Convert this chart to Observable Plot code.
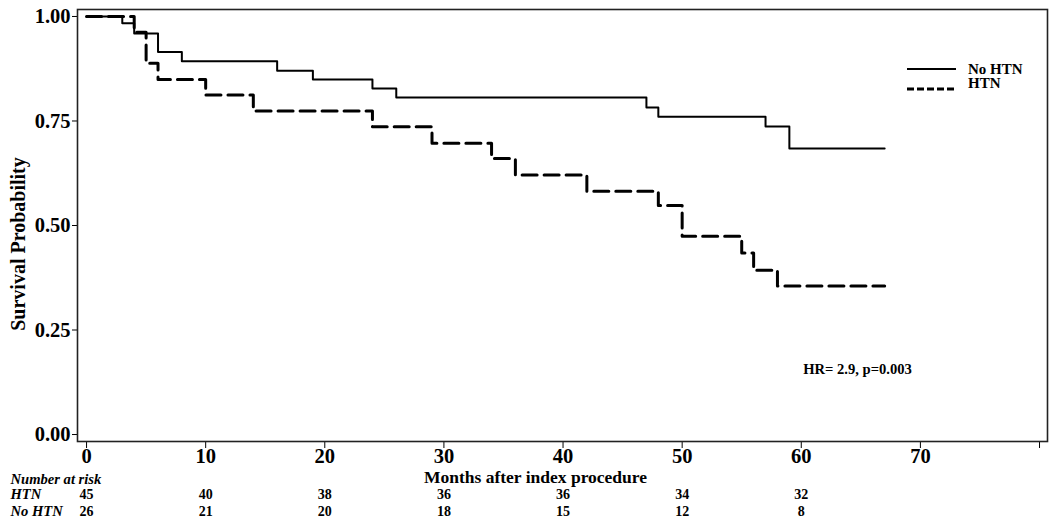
<!DOCTYPE html>
<html>
<head>
<meta charset="utf-8">
<script src="https://cdn.jsdelivr.net/npm/d3@7"></script>
<script src="https://cdn.jsdelivr.net/npm/@observablehq/plot@0.6"></script>
<style>
  body { margin: 0; background: #fff; }
  #wrap { position: relative; width: 1050px; height: 528px; font-family: "Liberation Serif", "Times New Roman", serif; }
  .leg-text { position: absolute; font-weight: bold; font-size: 15px; line-height: 1; color: #000; }
  .leg-line { position: absolute; }
</style>
</head>
<body>
<div id="wrap"></div>
<script>
// ---- data ----
const noHtnMonths = [0, 3, 4, 6, 8, 16, 19, 24, 26, 47, 48, 57, 59, 67];
const noHtnSurv   = [1.0, 0.984, 0.959, 0.915, 0.893, 0.870, 0.849, 0.828, 0.806, 0.782, 0.760, 0.737, 0.684, 0.684];

const htnMonths = [0, 4, 5, 6, 10, 14, 24, 29, 34, 36, 42, 48, 50, 55, 56, 58, 67];
const htnSurv   = [1.0, 0.962, 0.888, 0.849, 0.812, 0.774, 0.736, 0.697, 0.660, 0.621, 0.582, 0.548, 0.474, 0.434, 0.393, 0.355, 0.355];

const riskMonths = [0, 10, 20, 30, 40, 50, 60];
const htnRisk    = [45, 40, 38, 36, 36, 34, 32];
const noHtnRisk  = [26, 21, 20, 18, 15, 12, 8];

const xTicks = [0, 10, 20, 30, 40, 50, 60, 70, 80];
const xTickLabels = ["0", "10", "20", "30", "40", "50", "60", "70", ""];
const yTicks = [0, 0.25, 0.5, 0.75, 1.0];

const seriesNames = ["No HTN", "HTN"];
const yLabel = "Survival Probability";
const xLabel = "Months after index procedure";
const hrText = "HR= 2.9, p=0.003";
const riskTitle = "Number at risk";

// ---- build tables ----
const noHtn = noHtnMonths.map((m, i) => ({month: m, surv: noHtnSurv[i]}));
const htn = htnMonths.map((m, i) => ({month: m, surv: htnSurv[i]}));

const fontFamily = '"Liberation Serif", "Times New Roman", serif';

const chart = Plot.plot({
  width: 1050,
  height: 528,
  marginTop: 9,
  marginBottom: 87,
  marginLeft: 77,
  marginRight: 3,
  style: {fontFamily, fontWeight: "bold", fontSize: "20.5px", color: "#000", background: "#fff"},
  x: {
    domain: [-0.76, 80.67],
    ticks: xTicks,
    tickSize: 7,
    tickPadding: 0,
    tickFormat: d => xTickLabels[xTicks.indexOf(d)],
    label: null
  },
  y: {
    domain: [-0.0167, 1.0167],
    ticks: yTicks,
    tickSize: 5,
    tickPadding: 2,
    tickFormat: d3.format(".2f"),
    label: null
  },
  marks: [
    Plot.frame({stroke: "#222", strokeWidth: 1.6}),
    Plot.line(noHtn, {x: "month", y: "surv", curve: "step-after", stroke: "#000", strokeWidth: 2}),
    Plot.line(htn, {x: "month", y: "surv", curve: "step-after", stroke: "#000", strokeWidth: 3, strokeDasharray: "15,7"}),
    Plot.text([hrText], {frameAnchor: "bottom-right", textAnchor: "middle", dx: -190, dy: -68, fontSize: 14.6, fill: "#000"}),
    Plot.text([yLabel], {frameAnchor: "left", textAnchor: "middle", rotate: -90, dx: -59, dy: 18.5, fontSize: 20, fill: "#000"}),
    Plot.text([xLabel], {frameAnchor: "bottom", textAnchor: "middle", dx: -27, dy: 41, fontSize: 17.5, fill: "#000"}),
    Plot.text([riskTitle], {frameAnchor: "bottom-left", textAnchor: "start", dx: -67, dy: 42, fontSize: 14.6, fontStyle: "italic", fill: "#000"}),
    Plot.text([seriesNames[1]], {frameAnchor: "bottom-left", textAnchor: "start", dx: -67, dy: 57, fontSize: 14.6, fontStyle: "italic", fill: "#000"}),
    Plot.text([seriesNames[0]], {frameAnchor: "bottom-left", textAnchor: "start", dx: -67, dy: 74, fontSize: 14.6, fontStyle: "italic", fill: "#000"}),
    Plot.text(riskMonths, {x: d => d, text: (d, i) => String(htnRisk[i]), frameAnchor: "bottom", textAnchor: "middle", dy: 57, fontSize: 14, fill: "#000"}),
    Plot.text(riskMonths, {x: d => d, text: (d, i) => String(noHtnRisk[i]), frameAnchor: "bottom", textAnchor: "middle", dy: 74, fontSize: 14, fill: "#000"})
  ]
});

const wrap = document.getElementById("wrap");
chart.style.position = "absolute";
chart.style.left = "0";
chart.style.top = "0";
wrap.appendChild(chart);

// ---- legend (HTML overlay) ----
function legendItem(name, dash, width, lineTop, textTop) {
  const ns = "http://www.w3.org/2000/svg";
  const svg = document.createElementNS(ns, "svg");
  svg.setAttribute("width", 50);
  svg.setAttribute("height", 6);
  svg.setAttribute("class", "leg-line");
  svg.style.left = "907px";
  svg.style.top = (lineTop - 3) + "px";
  const ln = document.createElementNS(ns, "line");
  ln.setAttribute("x1", 0); ln.setAttribute("x2", 49);
  ln.setAttribute("y1", 3); ln.setAttribute("y2", 3);
  ln.setAttribute("stroke", "#000");
  ln.setAttribute("stroke-width", width);
  if (dash) ln.setAttribute("stroke-dasharray", dash);
  svg.appendChild(ln);
  wrap.appendChild(svg);
  const t = document.createElement("div");
  t.className = "leg-text";
  t.style.left = "968px";
  t.style.top = textTop + "px";
  t.textContent = name;
  wrap.appendChild(t);
}
legendItem(seriesNames[0], null, 2, 69, 62);
legendItem(seriesNames[1], "7,3", 3, 89, 76);
</script>
</body>
</html>
